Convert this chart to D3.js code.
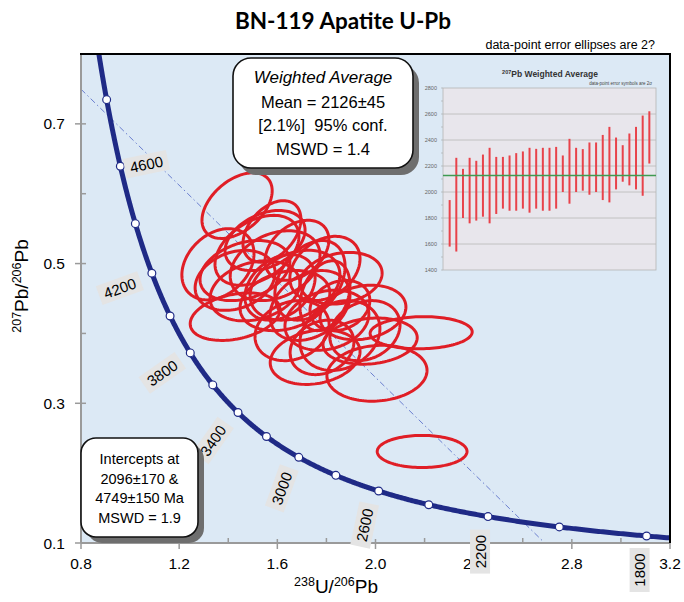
<!DOCTYPE html>
<html><head><meta charset="utf-8">
<script src="https://cdn.jsdelivr.net/npm/d3@7"></script>
<style>body{margin:0;background:#fff}svg{display:block}text{white-space:pre}</style>
</head><body>
<svg id="c" width="684" height="602"></svg>
<script>
// ---------- data ----------
const xTicks = [0.8, 1.2, 1.6, 2.0, 2.4, 2.8, 3.2];
const yTicks = [0.1, 0.3, 0.5, 0.7];
const markerAges = [1800,2000,2200,2400,2600,2800,3000,3200,3400,3600,3800,4000,4200,4400,4600,4800];
const labelAges = [1800,2200,2600,3000,3400,3800,4200,4600];
const interceptAges = [2096, 4749];
// ellipses: centre (238U/206Pb, 207Pb/206Pb), 2σ half-extents, error correlation
const ellX  = [1.436,1.578,1.358,1.428,1.860,1.949,2.186,1.978,2.006,1.754,2.190,1.468,1.517,1.591,1.672,1.733,1.631,1.509,1.802,1.794,1.550,1.855,1.660,1.733,1.794,1.611,1.428,1.957,1.680,1.855,1.782];
const ellY  = [0.583,0.546,0.499,0.424,0.479,0.430,0.401,0.389,0.343,0.366,0.231,0.490,0.519,0.497,0.469,0.440,0.447,0.461,0.419,0.493,0.533,0.397,0.404,0.476,0.454,0.466,0.476,0.404,0.519,0.440,0.380];
const ellSx = [0.143,0.118,0.147,0.183,0.167,0.175,0.208,0.192,0.204,0.183,0.183,0.183,0.171,0.183,0.183,0.163,0.183,0.183,0.171,0.143,0.163,0.163,0.151,0.143,0.102,0.143,0.163,0.143,0.130,0.122,0.130];
const ellSy = [0.047,0.044,0.051,0.034,0.037,0.039,0.023,0.033,0.040,0.039,0.023,0.043,0.050,0.050,0.050,0.050,0.043,0.043,0.043,0.046,0.043,0.050,0.043,0.057,0.050,0.047,0.043,0.043,0.043,0.036,0.039];
const ellRho= [0.45,0.40,0.30,0.30,0.20,0.20,0.05,0.15,0.10,0.20,0.00,0.30,0.40,0.30,0.30,0.30,0.25,0.25,0.20,0.30,0.35,0.20,0.20,0.35,0.30,0.30,0.25,0.20,0.35,0.20,0.20];
// inset weighted-average bars (Ma, 2σ low / high)
const wavLow  = [1580,1542,1800,1759,1780,1810,1759,1831,1872,1856,1856,1872,1841,1872,1856,1856,1872,2000,1910,2000,2010,1979,2000,1938,1920,2020,2079,2051,2020,1971,2219];
const wavHigh = [1938,2263,2178,2263,2240,2288,2340,2270,2270,2281,2299,2312,2340,2332,2340,2340,2347,2281,2409,2340,2330,2381,2381,2439,2501,2419,2360,2450,2501,2588,2621];
const wavMean = 2126;
const insetTicks = [1400,1600,1800,2000,2200,2400,2600,2800];

// ---------- layout ----------
const svg = d3.select("#c");
const L = 81, R = 670, T = 54, B = 543;
const x = d3.scaleLinear().domain([0.8, 3.2]).range([L, R]);
const y = d3.scaleLinear().domain([0.1, 0.8]).range([B, T]);
const FONT = "'Liberation Sans', Arial, sans-serif";

// decay constants (per Ma) for Tera-Wasserburg concordia
const l238 = 1.55125e-4, l235 = 9.8485e-4, U85 = 137.88;
const twX = t => 1 / (Math.exp(l238 * t) - 1);
const twY = t => (Math.exp(l235 * t) - 1) / (Math.exp(l238 * t) - 1) / U85;

svg.append("defs").append("clipPath").attr("id", "pc")
  .append("rect").attr("x", L).attr("y", T).attr("width", R - L).attr("height", B - T);

svg.append("rect").attr("x", L).attr("y", T).attr("width", R - L).attr("height", B - T).attr("fill", "#dce9f5");

const plot = svg.append("g").attr("clip-path", "url(#pc)");

// discordia
const p1 = [twX(interceptAges[0]), twY(interceptAges[0])];
const p2 = [twX(interceptAges[1]), twY(interceptAges[1])];
const slope = (p2[1] - p1[1]) / (p2[0] - p1[0]);
const xAtBottom = p1[0] + (0.1 - p1[1]) / slope;
const yAtLeft = p1[1] + (0.8 - p1[0]) * slope;
plot.append("line").attr("x1", x(0.8)).attr("y1", y(yAtLeft)).attr("x2", x(xAtBottom)).attr("y2", y(0.1))
  .attr("stroke", "#6b7fcf").attr("stroke-width", 1).attr("stroke-dasharray", "6,3,1.5,3");

// concordia
const cAges = d3.range(1700, 5101, 5);
plot.append("path").datum(cAges)
  .attr("d", d3.line().x(t => x(twX(t))).y(t => y(twY(t))))
  .attr("fill", "none").attr("stroke", "#1f2a86").attr("stroke-width", 5);
plot.selectAll("circle.m").data(markerAges).join("circle")
  .attr("cx", t => x(twX(t))).attr("cy", t => y(twY(t))).attr("r", 3.9)
  .attr("fill", "#fff").attr("stroke", "#1f2a86").attr("stroke-width", 1.2);

// ellipses
const ang = d3.range(0, 2 * Math.PI, Math.PI / 60);
const ellLine = d3.line().curve(d3.curveLinearClosed);
ellX.forEach((cx, i) => {
  const r = ellRho[i], q = Math.sqrt(1 - r * r);
  const pts = ang.map(a => [x(cx + ellSx[i] * Math.cos(a)),
                            y(ellY[i] + ellSy[i] * (r * Math.cos(a) + q * Math.sin(a)))]);
  plot.append("path").attr("d", ellLine(pts)).attr("fill", "none")
    .attr("stroke", "#e01e26").attr("stroke-width", 3);
});

// axes
const ax = svg.append("g").attr("stroke", "#9a9a9a");
ax.append("line").attr("x1", L).attr("x2", R).attr("y1", B).attr("y2", B).attr("stroke-width", 2);
ax.append("line").attr("x1", L).attr("x2", L).attr("y1", T).attr("y2", B).attr("stroke-width", 2);
d3.range(0.8, 3.21, 0.2).forEach((v, i) => {
  if (i % 2 === 0) ax.append("line").attr("x1", x(v)).attr("x2", x(v)).attr("y1", B - 4).attr("y2", B + 6).attr("stroke-width", 1.5);
  else ax.append("line").attr("x1", x(v)).attr("x2", x(v)).attr("y1", B - 5).attr("y2", B).attr("stroke-width", 1.5);
});
d3.range(0.1, 0.81, 0.1).forEach((v, i) => {
  if (i % 2 === 0) ax.append("line").attr("x1", L - 6).attr("x2", L + 5).attr("y1", y(v)).attr("y2", y(v)).attr("stroke-width", 1.5);
  else ax.append("line").attr("x1", L).attr("x2", L + 5).attr("y1", y(v)).attr("y2", y(v)).attr("stroke-width", 1.5);
});
svg.append("line").attr("x1", L - 1).attr("x2", R + 1).attr("y1", T).attr("y2", T).attr("stroke", "#000").attr("stroke-width", 2);
svg.append("line").attr("x1", R).attr("x2", R).attr("y1", T).attr("y2", B).attr("stroke", "#000").attr("stroke-width", 2);

svg.selectAll("text.xt").data(xTicks).join("text")
  .attr("x", d => x(d)).attr("y", 569).attr("text-anchor", "middle")
  .attr("font-family", FONT).attr("font-size", 15.5).text(d3.format(".1f"));
svg.selectAll("text.yt").data(yTicks).join("text")
  .attr("x", 65).attr("y", d => y(d) + 5.5).attr("text-anchor", "end")
  .attr("font-family", FONT).attr("font-size", 15.5).text(d3.format(".1f"));

// axis titles
const xt = svg.append("text").attr("x", 336).attr("y", 593).attr("text-anchor", "middle").attr("font-family", FONT).attr("font-size", 19);
xt.append("tspan").attr("font-size", 12.5).attr("dy", -7).text("238");
xt.append("tspan").attr("dy", 7).text("U/");
xt.append("tspan").attr("font-size", 12.5).attr("dy", -7).text("206");
xt.append("tspan").attr("dy", 7).text("Pb");
const yt = svg.append("text").attr("transform", "translate(28,286) rotate(-90)").attr("text-anchor", "middle").attr("font-family", FONT).attr("font-size", 19);
yt.append("tspan").attr("font-size", 12.5).attr("dy", -7).text("207");
yt.append("tspan").attr("dy", 7).text("Pb/");
yt.append("tspan").attr("font-size", 12.5).attr("dy", -7).text("206");
yt.append("tspan").attr("dy", 7).text("Pb");

// age labels (offset from marker, rotation)
const labelLayout = {4600:[26,-2,-12],4200:[-32,15,-20],3800:[-28,20,-35],3400:[-25,28,-55],3000:[-17,31,-70],2600:[-14,34,-78],2200:[-8,35,-90],1800:[-7,34,-90]};
labelAges.forEach(a => {
  const [dx, dy, rot] = labelLayout[a];
  const g = svg.append("g").attr("transform", `translate(${x(twX(a)) + dx},${y(twY(a)) + dy}) rotate(${rot})`);
  g.append("rect").attr("x", -22).attr("y", -10).attr("width", 44).attr("height", 20).attr("fill", "#e4e4e4");
  g.append("text").attr("text-anchor", "middle").attr("y", 5.5).attr("font-family", FONT).attr("font-size", 15).text(a);
});

// ---------- inset ----------
const iL = 443, iR = 656, iT = 88, iB = 270;
const ix = d3.scalePoint().domain(d3.range(wavLow.length)).range([iL, iR]).padding(1);
const iy = d3.scaleLinear().domain([1400, 2800]).range([iB, iT]);
const ins = svg.append("g");
ins.append("rect").attr("x", iL).attr("y", iT).attr("width", iR - iL).attr("height", iB - iT).attr("fill", "#e8e6ec").attr("stroke", "#b4b4b4").attr("stroke-width", 0.8);
insetTicks.slice(1, -1).forEach(v => ins.append("line").attr("x1", iL).attr("x2", iR).attr("y1", iy(v)).attr("y2", iy(v)).attr("stroke", "#b8b8b8").attr("stroke-width", 0.8));
d3.range(1400, 2801, 100).forEach(v => ins.append("line").attr("x1", iL - 2).attr("x2", iL).attr("y1", iy(v)).attr("y2", iy(v)).attr("stroke", "#aaa").attr("stroke-width", 0.6));
ins.selectAll("text.it").data(insetTicks).join("text").attr("x", iL - 6).attr("y", d => iy(d) + 2)
  .attr("text-anchor", "end").attr("font-family", FONT).attr("font-size", 5.5).attr("fill", "#666").text(d => d);
ins.selectAll("line.bar").data(wavLow).join("line")
  .attr("x1", (d, i) => ix(i)).attr("x2", (d, i) => ix(i))
  .attr("y1", d => iy(d)).attr("y2", (d, i) => iy(wavHigh[i]))
  .attr("stroke", "#e8424a").attr("stroke-width", 2);
ins.append("line").attr("x1", iL).attr("x2", iR).attr("y1", iy(wavMean)).attr("y2", iy(wavMean)).attr("stroke", "#3f9a52").attr("stroke-width", 1.5);
const itl = ins.append("text").attr("x", 550).attr("y", 77).attr("text-anchor", "middle").attr("font-family", FONT).attr("font-weight", "bold").attr("font-size", 8.5).attr("fill", "#333");
itl.append("tspan").attr("font-size", 5.5).attr("dy", -3).text("207");
itl.append("tspan").attr("dy", 3).text("Pb Weighted Average");
ins.append("text").attr("x", 652).attr("y", 85).attr("text-anchor", "end").attr("font-family", FONT).attr("font-size", 4.5).attr("fill", "#444").text("data-point error symbols are 2σ");

// ---------- boxes ----------
function box(x0, y0, w, h, rx, off, lines) {
  svg.append("rect").attr("x", x0 + off[0]).attr("y", y0 + off[1]).attr("width", w).attr("height", h).attr("rx", rx).attr("fill", "#6e6e6e");
  svg.append("rect").attr("x", x0).attr("y", y0).attr("width", w).attr("height", h).attr("rx", rx).attr("fill", "#fff").attr("stroke", "#111").attr("stroke-width", 1.6);
  lines.forEach(l => svg.append("text").attr("x", x0 + w / 2).attr("y", l.y).attr("text-anchor", "middle")
    .attr("font-family", FONT).attr("font-size", l.s).attr("font-style", l.i ? "italic" : null).text(l.t));
}
box(233, 58, 180, 110, 18, [6, 7], [
  {t: "Weighted Average", y: 83, s: 17, i: true},
  {t: "Mean = 2126±45", y: 108, s: 16.5},
  {t: "[2.1%]  95% conf.", y: 131, s: 16.5},
  {t: "MSWD = 1.4", y: 155, s: 16.5}]);
box(81, 438, 117, 99, 15, [6, 6], [
  {t: "Intercepts at", y: 464, s: 14.5},
  {t: "2096±170 &", y: 484, s: 14.5},
  {t: "4749±150 Ma", y: 503, s: 14.5},
  {t: "MSWD = 1.9", y: 523, s: 14.5}]);

// ---------- titles ----------
svg.append("text").attr("x", 343).attr("y", 29).attr("text-anchor", "middle").attr("font-family", "Lato, 'Open Sans', sans-serif")
  .attr("font-weight", "bold").attr("font-size", 22.5).text("BN-119 Apatite U-Pb");
svg.append("text").attr("x", 655).attr("y", 49).attr("text-anchor", "end").attr("font-family", FONT).attr("font-size", 12.5).text("data-point error ellipses are 2?");
</script>
</body></html>
